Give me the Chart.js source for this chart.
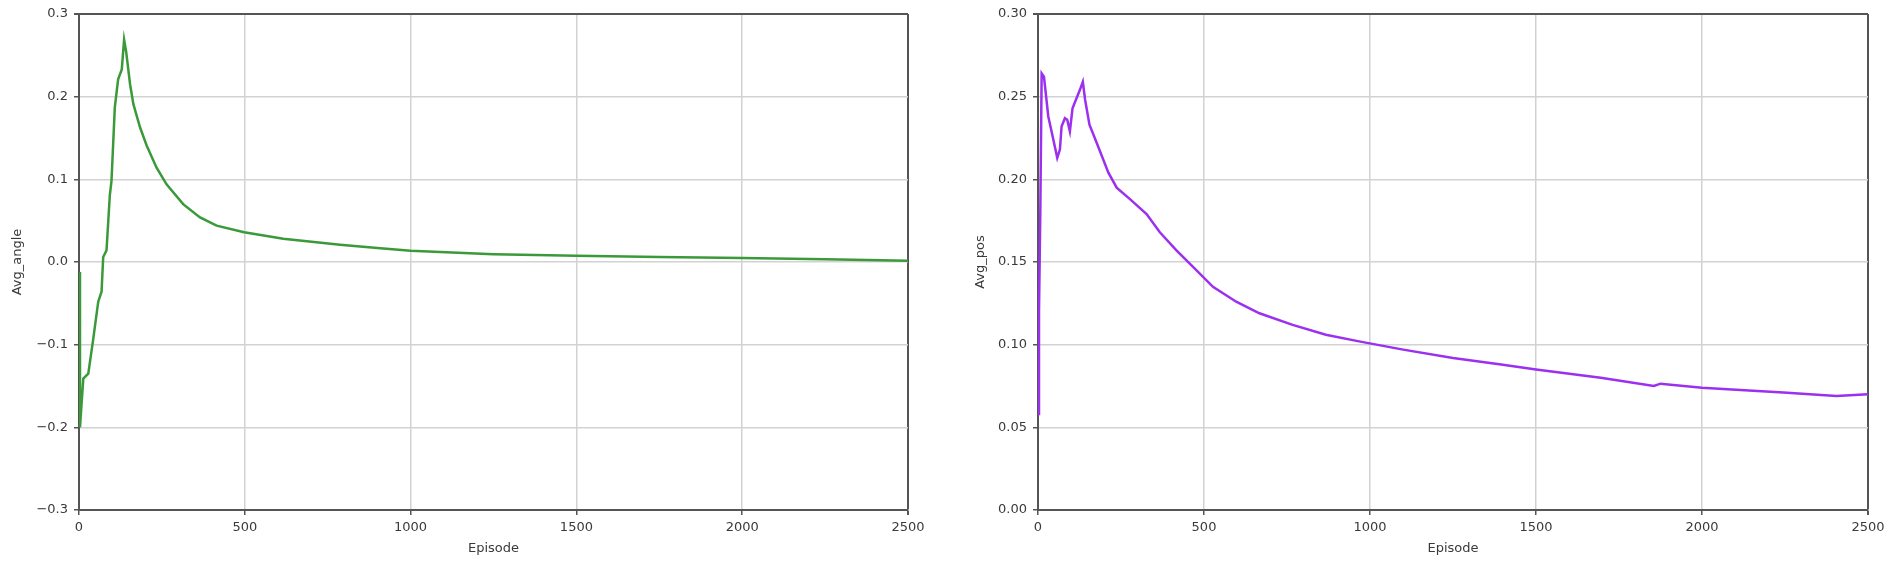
<!DOCTYPE html>
<html>
<head>
<meta charset="utf-8">
<script src="https://cdn.jsdelivr.net/npm/chart.js@4"></script>
<style>
  body { margin: 0; background: #fff; }
  #left { position: absolute; left: 0; top: 0; }
  #right { position: absolute; left: 950px; top: 0; }
</style>
</head>
<body>
<canvas id="left" width="950" height="569"></canvas>
<canvas id="right" width="951" height="569"></canvas>
<script>
// values
const angleEpisodes = [0, 3, 8, 13, 28, 43, 58, 68, 73, 83, 93, 98, 108, 118, 129, 136, 142, 154, 164, 184, 204, 234, 264, 314, 365, 415, 498, 616, 787, 900, 1000, 1250, 1500, 1750, 2000, 2250, 2500];
const angleValues = [-0.012, -0.2, -0.17, -0.141, -0.135, -0.093, -0.048, -0.036, 0.006, 0.014, 0.081, 0.098, 0.187, 0.221, 0.233, 0.269, 0.255, 0.215, 0.191, 0.163, 0.141, 0.114, 0.094, 0.070, 0.054, 0.044, 0.036, 0.028, 0.021, 0.017, 0.0135, 0.0095, 0.0075, 0.006, 0.0048, 0.0032, 0.0016];

const posEpisodes = [0, 3, 7, 11, 18, 31, 44, 58, 66, 71, 81, 88, 96, 104, 116, 126, 135, 142, 155, 177, 212, 237, 277, 327, 367, 417, 467, 527, 597, 667, 767, 867, 967, 1100, 1250, 1395, 1500, 1695, 1855, 1875, 2000, 2245, 2405, 2500];
const posValues = [0.058, 0.12, 0.181, 0.264, 0.262, 0.238, 0.226, 0.213, 0.218, 0.232, 0.237, 0.236, 0.229, 0.243, 0.249, 0.254, 0.259, 0.248, 0.233, 0.222, 0.204, 0.195, 0.188, 0.179, 0.168, 0.157, 0.147, 0.135, 0.126, 0.119, 0.112, 0.106, 0.102, 0.097, 0.092, 0.088, 0.085, 0.080, 0.075, 0.0764, 0.074, 0.071, 0.069, 0.070];

const episodeTicks = [0, 500, 1000, 1500, 2000, 2500];
const episodeTickLabels = ['0', '500', '1000', '1500', '2000', '2500'];
const angleTicks = [-0.3, -0.2, -0.1, 0, 0.1, 0.2, 0.3];
const angleTickLabels = ['\u22120.3', '\u22120.2', '\u22120.1', '0.0', '0.1', '0.2', '0.3'];
const posTicks = [0, 0.05, 0.1, 0.15, 0.2, 0.25, 0.3];
const posTickLabels = ['0.00', '0.05', '0.10', '0.15', '0.20', '0.25', '0.30'];

const font = { family: 'DejaVu Sans', size: 13 };
const textColor = '#3a3a3a';
const spine = '#555';
const gridColor = '#d2d2d2';

function makeChart(id, xs, ys, color, yTicks, yLabels, yTitle, yWidth, titlePad, rightPad) {
    const points = xs.map((x, i) => ({ x: x, y: ys[i] }));
    return new Chart(document.getElementById(id), {
        type: 'line',
        data: {
            datasets: [{
                data: points,
                borderColor: color,
                borderWidth: 2.5,
                pointRadius: 0,
                tension: 0,
            }]
        },
        options: {
            responsive: false,
            animation: false,
            layout: { padding: { left: 0, right: rightPad, top: 14, bottom: 0 } },
            plugins: { legend: { display: false }, tooltip: { enabled: false } },
            scales: {
                x: {
                    type: 'linear',
                    min: 0,
                    max: 2500,
                    afterBuildTicks: s => { s.ticks = episodeTicks.map(v => ({ value: v })); },
                    afterFit: s => { s.height = 59; },
                    ticks: {
                        font: font,
                        color: textColor,
                        padding: 5,
                        maxRotation: 0,
                        callback: (v, i) => episodeTickLabels[i],
                    },
                    grid: {
                        color: c => c.index === episodeTicks.length - 1 ? spine : gridColor,
                        lineWidth: c => c.index === episodeTicks.length - 1 ? 2 : 1.5,
                        tickColor: spine,
                        tickLength: 5,
                    },
                    border: { color: spine, width: 2 },
                    title: {
                        display: true,
                        text: 'Episode',
                        font: font,
                        color: textColor,
                        padding: { top: 0, bottom: 13 },
                    },
                },
                y: {
                    min: yTicks[0],
                    max: yTicks[yTicks.length - 1],
                    afterBuildTicks: s => { s.ticks = yTicks.map(v => ({ value: v })); },
                    afterFit: s => { s.width = yWidth; },
                    ticks: {
                        font: font,
                        color: textColor,
                        padding: 6,
                        callback: (v, i) => yLabels[i],
                    },
                    grid: {
                        color: c => c.index === yTicks.length - 1 ? spine : gridColor,
                        lineWidth: c => c.index === yTicks.length - 1 ? 2 : 1.5,
                        tickColor: spine,
                        tickLength: 5,
                    },
                    border: { color: spine, width: 2 },
                    title: {
                        display: true,
                        text: yTitle,
                        font: font,
                        color: textColor,
                        padding: { top: titlePad, bottom: 0 },
                    },
                },
            },
        },
    });
}

makeChart('left', angleEpisodes, angleValues, '#3a9a3a', angleTicks, angleTickLabels, 'Avg_angle', 79, 10, 42);
makeChart('right', posEpisodes, posValues, '#9b30f0', posTicks, posTickLabels, 'Avg_pos', 88, 23, 33);
</script>
</body>
</html>
